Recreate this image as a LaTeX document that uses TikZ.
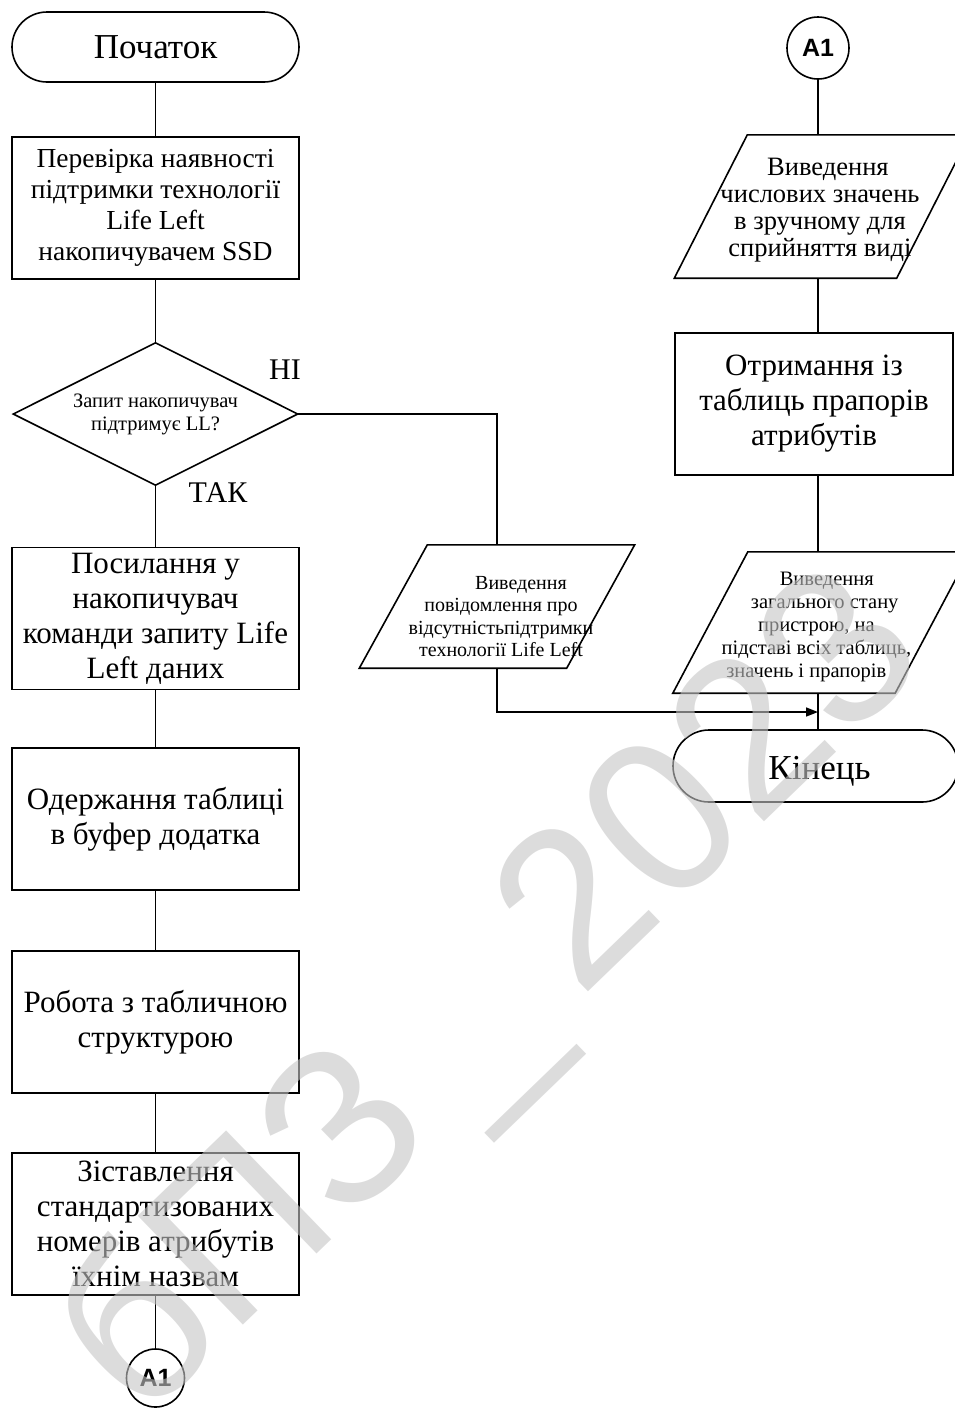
\documentclass[tikz,border=0pt]{standalone}
\usepackage{fontspec}
\setmainfont{Liberation Serif}
\newfontfamily\connfont{Liberation Sans}
\usetikzlibrary{calc,arrows.meta}
\definecolor{wmgray}{RGB}{197,197,197}
\newcommand{\setfs}[2]{\fontsize{#1}{#2}\selectfont}
\tikzset{
  flow/.style={line width=1.6pt},
  procbox/.style={draw, line width=1.6pt, rectangle, minimum width=287pt,
    minimum height=142pt, inner sep=0pt, align=center},
  term/.style={draw, line width=1.6pt, rectangle, inner sep=0pt, align=center},
  slot/.style={inner sep=0pt, align=center},
  conn/.style={draw, line width=1.6pt, circle, inner sep=0pt,
    font=\connfont\bfseries\setfs{25}{25}},
  lbl/.style={inner sep=0pt, font=\setfs{30}{30}},
}
% outline of an input/output parallelogram around an empty slot node
\newcommand{\iopath}[2]{%
  \draw[flow] ($(#1.north west)+(#2,0)$) -- ($(#1.north east)+(#2,0)$)
    -- ($(#1.south east)+(-#2,0)$) -- ($(#1.south west)+(-#2,0)$) -- cycle;}
\begin{document}
\begin{tikzpicture}[x=1pt,y=-1pt]
\useasboundingbox (0,0) rectangle (955,1414);
\clip (0,0) rectangle (955,1414);

% ---------- left column ----------
\node[term, minimum width=287pt, minimum height=70pt, rounded corners=35pt,
  font=\setfs{35}{40}] (start) at (155.5,47) {Початок};
\node[procbox, font=\setfs{27.5}{31}] (b1) at (155.5,208)
  {Перевірка наявності\\підтримки технології\\Life Left\\накопичувачем SSD};
\node[slot, minimum width=284pt, minimum height=142pt, font=\setfs{20.5}{23}]
  (dia) at (155.5,414) {Запит накопичувач\\підтримує LL?};
\draw[flow] (dia.north) -- (dia.east) -- (dia.south) -- (dia.west) -- cycle;
\node[procbox, font=\setfs{31}{35}] (b2) at (155.5,618.5)
  {Посилання у\\накопичувач\\команди запиту Life\\Left даних};
\node[procbox, font=\setfs{31}{35}] (b3) at (155.5,819)
  {Одержання таблиці\\в буфер додатка};
\node[procbox, font=\setfs{31}{35}] (b4) at (155.5,1022)
  {Робота з табличною\\структурою};
\node[procbox, font=\setfs{31}{35}] (b5) at (155.5,1224)
  {Зіставлення\\стандартизованих\\номерів атрибутів\\їхнім назвам};
\node[conn, minimum size=58pt] (a1b) at (155.5,1378) {A1};

\node[lbl] (no) at (285,370) {НІ};
\node[lbl] (yes) at (218,493) {ТАК};

\draw[flow] (start) -- (b1);
\draw[flow] (b1) -- (dia.north);
\draw[flow] (dia.south) -- (b2);
\draw[flow] (b2) -- (b3);
\draw[flow] (b3) -- (b4);
\draw[flow] (b4) -- (b5);
\draw[flow] (b5) -- (a1b);

% ---------- "no" branch ----------
\node[slot, minimum width=207pt, minimum height=123pt] (pm) at (497,606.5) {};
\iopath{pm}{34}
\node[slot, font=\setfs{20}{22.5}] (pmtext) at ($(pm)+(4,10)$)
  {\hspace*{2em}Виведення\\повідомлення про\\відсутністьпідтримки\\технології Life Left};
\draw[flow] (dia.east) -| (pm.north);

% ---------- right column ----------
\node[conn, minimum size=62pt] (a1t) at (818,48) {A1};
\node[slot, minimum width=222pt, minimum height=143pt] (p1) at (822,206.5) {};
\iopath{p1}{36.5}
\node[slot, font=\setfs{26.5}{27}] (p1text) at ($(p1)+(-2,4)$)
  {\hspace*{0.6em}Виведення\\числових значень\\в зручному для\\сприйняття виді};
\node[procbox, minimum width=278pt, font=\setfs{31}{35}] (b6) at (814,404)
  {Отримання із\\таблиць прапорів\\атрибутів};
\node[slot, minimum width=222pt, minimum height=141pt] (p2) at (821.5,622.5) {};
\iopath{p2}{37.5}
\node[slot, font=\setfs{20.5}{23}] (p2text) at ($(p2)+(-5,4)$)
  {\hspace*{1em}Виведення\\\hspace*{0.8em}загального стану\\пристрою, на\\підставі всіх таблиць,\\значень і прапорів\hspace*{1em}};
\node[term, minimum width=285pt, minimum height=72pt, rounded corners=36pt]
  (end) at (815.5,766) {};
\node[slot, font=\setfs{35}{40}] (endtext) at ($(end)+(4,5)$) {Кінець};

\draw[flow] (a1t) -- (a1t |- p1.north);
\draw[flow] (p1.south -| a1t) -- (b6.north -| a1t);
\draw[flow] (b6.south -| a1t) -- (p2.north -| a1t);
\draw[flow] (p2.south -| a1t) -- (end.north -| a1t);

\coordinate (join) at (818,712);
\draw[flow, -{Triangle[length=12pt,width=9pt]}] (pm.south) |- (join);

% ---------- watermark ----------
\node[rotate=44, anchor=base west, inner sep=0pt, text=wmgray, opacity=0.6,
  font=\connfont\setfs{220}{220}] (wm) at (140,1425) {бПЗ\,\_\,2023};
\end{tikzpicture}
\end{document}
